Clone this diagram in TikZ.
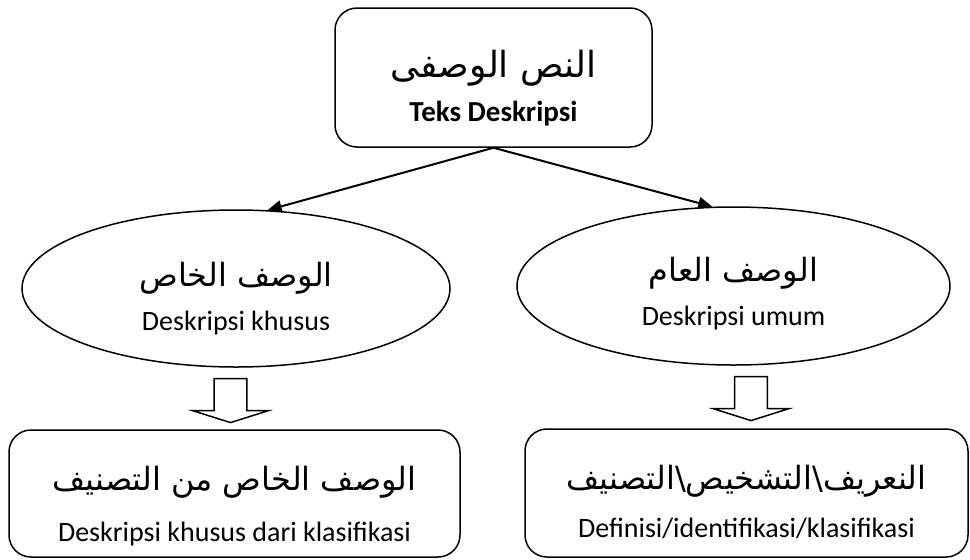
\documentclass[tikz,border=0pt]{standalone}
\usepackage{fontspec}
\setmainfont{Carlito}
\newfontfamily\arabicfont[Script=Arabic]{DejaVu Sans}
\TeXXeTstate=1
\usetikzlibrary{arrows.meta, positioning, shapes.geometric, shapes.arrows}

% Arabic line with some extra room above it
\newcommand{\arabicline}[3][10pt]{\raisebox{0pt}[\dimexpr\height+#1\relax]{\arabicfont\fontsize{#2}{#2}\selectfont #3}}

\begin{document}
\begin{tikzpicture}[x=0.5pt, y=-0.5pt,
    box/.style={draw, line width=0.75pt, rounded corners=11pt, align=center, inner sep=0pt, font=\fontsize{14}{17}\selectfont},
    oval/.style={draw, ellipse, line width=0.75pt, align=center, inner sep=0pt, font=\fontsize{14}{17}\selectfont},
    blockarrow/.style={draw, single arrow, shape border rotate=270, line width=0.75pt, inner sep=5pt, minimum width=38pt, minimum height=22pt, single arrow tip angle=145},
    link/.style={line width=1pt, -{Triangle[length=7pt, width=6pt]}}]

    \clip (0,0) rectangle (970,559);

    % top box
    \node[box, minimum width=158.5pt, minimum height=69.5pt] (d0) at (493.5,77.5) {
        \arabicline[11pt]{18}{\beginR النص الوصفى\endR}\\[5pt]
        \fontsize{14.5}{17}\selectfont\textbf{Teks Deskripsi}
    };

    % ellipses
    \node[oval, minimum width=214pt, minimum height=78.5pt] (d1) at (236,288.5) {
        \arabicline{16}{\beginR الوصف الخاص\endR}\\[5pt]
        Deskripsi khusus
    };
    \node[oval, minimum width=216.5pt, minimum height=79pt] (d2) at (733.5,286) {
        \arabicline[8pt]{16}{\beginR الوصف العام\endR}\\[5pt]
        Deskripsi umum
    };

    % bottom boxes
    \node[box, minimum width=225.5pt, minimum height=63.5pt] (k1) at (234.5,493.5) {
        \arabicline[12.5pt]{16}{\beginR الوصف الخاص من التصنيف\endR}\\[8.5pt]
        Deskripsi khusus dari klasifikasi
    };
    \node[box, minimum width=221.5pt, minimum height=64pt] (k2) at (746.5,493) {
        \arabicline[9pt]{16}{\beginR النعريف\textbackslash{}التشخيص\textbackslash{}التصنيف\endR}\\[7pt]
        Definisi/identifikasi/klasifikasi
    };

    % block arrows
    \node[blockarrow] (a1) at (230.5,398) {};
    \node[blockarrow] (a2) at (751,396) {};

    \draw[link] (d0.south) -- (d1.68);
    \draw[link] (d0.south) -- (d2.105);
\end{tikzpicture}
\end{document}
